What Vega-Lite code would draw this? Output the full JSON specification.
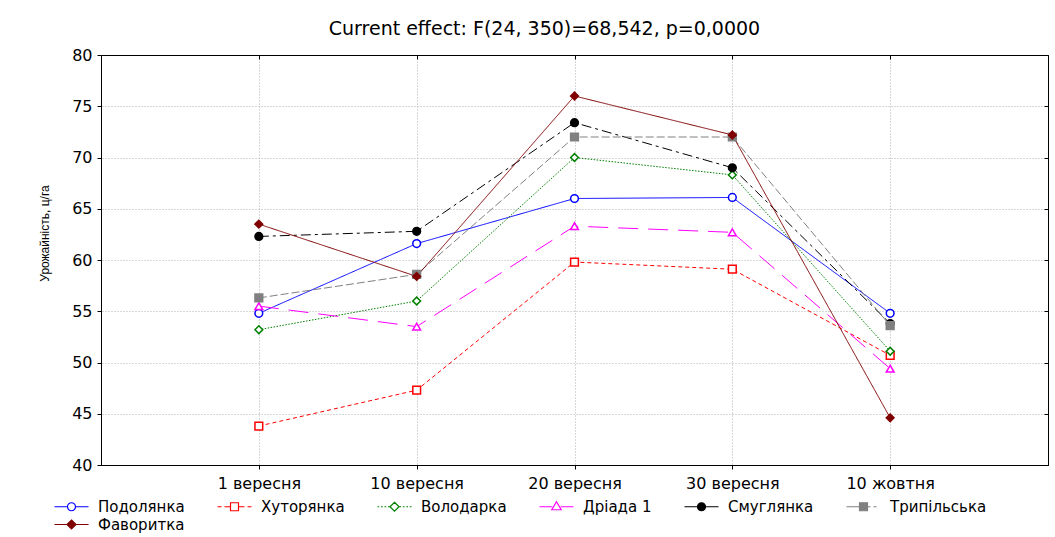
{
  "$schema": "https://vega.github.io/schema/vega-lite/v6.json",
  "width": 947,
  "height": 410,
  "autosize": {"type": "none"},
  "padding": {"left": 101, "top": 55, "right": 7, "bottom": 72},
  "background": "white",
  "title": {
    "text": "Current effect: F(24, 350)=68,542, p=0,0000",
    "font": "DejaVu Sans",
    "fontSize": 19,
    "fontWeight": "normal",
    "color": "#000000",
    "anchor": "middle",
    "frame": "group",
    "dx": -30,
    "baseline": "alphabetic",
    "offset": -7
  },
  "config": {
    "view": {"stroke": "#000000", "strokeWidth": 1},
    "axis": {
      "labelFont": "DejaVu Sans",
      "labelFontSize": 16,
      "labelColor": "#000000",
      "tickColor": "#000000",
      "domainColor": "#000000",
      "gridColor": "#b0b0b0",
      "gridDash": [1, 2],
      "gridWidth": 1
    }
  },
  "data": {
    "values": [
      {"series": "Подолянка", "date": "1 вересня", "yield": 54.8},
      {"series": "Подолянка", "date": "10 вересня", "yield": 61.6},
      {"series": "Подолянка", "date": "20 вересня", "yield": 66.0},
      {"series": "Подолянка", "date": "30 вересня", "yield": 66.1},
      {"series": "Подолянка", "date": "10 жовтня", "yield": 54.8},
      {"series": "Хуторянка", "date": "1 вересня", "yield": 43.8},
      {"series": "Хуторянка", "date": "10 вересня", "yield": 47.3},
      {"series": "Хуторянка", "date": "20 вересня", "yield": 59.8},
      {"series": "Хуторянка", "date": "30 вересня", "yield": 59.1},
      {"series": "Хуторянка", "date": "10 жовтня", "yield": 50.7},
      {"series": "Володарка", "date": "1 вересня", "yield": 53.2},
      {"series": "Володарка", "date": "10 вересня", "yield": 56.0},
      {"series": "Володарка", "date": "20 вересня", "yield": 70.0},
      {"series": "Володарка", "date": "30 вересня", "yield": 68.3},
      {"series": "Володарка", "date": "10 жовтня", "yield": 51.1},
      {"series": "Дріада 1", "date": "1 вересня", "yield": 55.5},
      {"series": "Дріада 1", "date": "10 вересня", "yield": 53.5},
      {"series": "Дріада 1", "date": "20 вересня", "yield": 63.3},
      {"series": "Дріада 1", "date": "30 вересня", "yield": 62.7},
      {"series": "Дріада 1", "date": "10 жовтня", "yield": 49.4},
      {"series": "Смуглянка", "date": "1 вересня", "yield": 62.3},
      {"series": "Смуглянка", "date": "10 вересня", "yield": 62.8},
      {"series": "Смуглянка", "date": "20 вересня", "yield": 73.4},
      {"series": "Смуглянка", "date": "30 вересня", "yield": 69.0},
      {"series": "Смуглянка", "date": "10 жовтня", "yield": 53.8},
      {"series": "Трипільська", "date": "1 вересня", "yield": 56.3},
      {"series": "Трипільська", "date": "10 вересня", "yield": 58.6},
      {"series": "Трипільська", "date": "20 вересня", "yield": 72.0},
      {"series": "Трипільська", "date": "30 вересня", "yield": 72.0},
      {"series": "Трипільська", "date": "10 жовтня", "yield": 53.6},
      {"series": "Фаворитка", "date": "1 вересня", "yield": 63.5},
      {"series": "Фаворитка", "date": "10 вересня", "yield": 58.4},
      {"series": "Фаворитка", "date": "20 вересня", "yield": 76.0},
      {"series": "Фаворитка", "date": "30 вересня", "yield": 72.2},
      {"series": "Фаворитка", "date": "10 жовтня", "yield": 44.6}
    ]
  },
  "resolve": {"axis": {"x": "independent", "y": "independent"}},
  "layer": [
    {
      "mark": {"type": "line", "strokeWidth": 1},
      "encoding": {
        "x": {
          "field": "date",
          "type": "ordinal",
          "sort": ["1 вересня", "10 вересня", "20 вересня", "30 вересня", "10 жовтня"],
          "scale": {"type": "point", "padding": 1},
          "axis": {"title": null, "labelAngle": 0, "tickSize": 4, "labelPadding": 6, "grid": true}
        },
        "y": {
          "field": "yield",
          "type": "quantitative",
          "scale": {"domain": [40, 80], "nice": false, "zero": false},
          "axis": {
            "values": [40, 45, 50, 55, 60, 65, 70, 75, 80],
            "title": "Урожайність, ц/га",
            "titleFont": "Liberation Sans",
            "titleFontSize": 12,
            "titleFontWeight": "normal",
            "titleColor": "#000000",
            "titleAngle": -90,
            "titleAlign": "center",
            "titleBaseline": "bottom",
            "titlePadding": 20,
            "titleY": 178,
            "tickSize": 4,
            "labelPadding": 5,
            "grid": false
          }
        },
        "color": {
          "field": "series",
          "type": "nominal",
          "scale": {
            "domain": ["Подолянка", "Хуторянка", "Володарка", "Дріада 1", "Смуглянка", "Трипільська", "Фаворитка"],
            "range": ["#0000ff", "#ff0000", "#008000", "#ff00ff", "#000000", "#808080", "#800000"]
          },
          "legend": {
            "title": null,
            "orient": "none",
            "legendX": -37,
            "legendY": 444,
            "direction": "horizontal",
            "columns": 6,
            "labelFont": "DejaVu Sans",
            "labelFontSize": 15,
            "labelColor": "#000000",
            "symbolSize": 100,
            "symbolStrokeWidth": 1.2,
            "labelOffset": 19,
            "columnPadding": 30,
            "rowPadding": 2,
            "encode": {
              "symbols": {
                "update": {
                  "shape": {"signal": "{'Подолянка': 'M-3.4,0H-0.8M0.8,0H3.4M0.8,0A0.8,0.8 0 1,1 -0.8,0A0.8,0.8 0 1,1 0.8,0Z', 'Хуторянка': 'M-3.4,0H-2.6M-2,0H-0.8M0.8,0H2M2.6,0H3.4M-0.8,-0.8H0.8V0.8H-0.8Z', 'Володарка': 'M-3.4,0H-3.05M-2.7,0H-2.35M-2,0H-1.65M-1.3,0H-0.95M0.95,0H1.3M1.65,0H2M2.35,0H2.7M3.05,0H3.4M0,-0.9L0.9,0L0,0.9L-0.9,0Z', 'Дріада 1': 'M-3.4,0H-0.85M0.85,0H3.4M0,-1L0.95,0.6H-0.95Z', 'Смуглянка': 'M-3.4,0H-0.8M0.8,0H3.4M0.8,0A0.8,0.8 0 1,1 -0.8,0A0.8,0.8 0 1,1 0.8,0Z', 'Трипільська': 'M-3.4,0H-0.8M0.8,0H1.4M2,0H2.6M-0.8,-0.8H0.8V0.8H-0.8Z', 'Фаворитка': 'M-3.4,0H-0.9M0.9,0H3.4M0,-0.9L0.9,0L0,0.9L-0.9,0Z'}[datum.value]"},
                  "fill": {"signal": "indexof(['Смуглянка', 'Трипільська', 'Фаворитка'], datum.value) >= 0 ? scale('color', datum.value) : '#ffffff'"},
                  "strokeWidth": {"value": 1.2},
                  "opacity": {"value": 1}
                }
              }
            }
          }
        },
        "strokeDash": {
          "field": "series",
          "type": "nominal",
          "scale": {
            "domain": ["Володарка", "Дріада 1", "Подолянка", "Смуглянка", "Трипільська", "Фаворитка", "Хуторянка"],
            "range": [[1.5, 1.5], [20, 10], [1, 0], [10, 4, 3, 4], [8, 3], [1, 0], [4, 3]]
          },
          "legend": null
        }
      }
    },
    {
      "mark": {"type": "point", "size": 60, "strokeWidth": 1.5, "opacity": 1},
      "encoding": {
        "x": {
          "field": "date",
          "type": "ordinal",
          "sort": ["1 вересня", "10 вересня", "20 вересня", "30 вересня", "10 жовтня"],
          "axis": {"orient": "top", "title": null, "labels": false, "domain": true, "grid": false, "tickSize": -4}
        },
        "y": {
          "field": "yield",
          "type": "quantitative",
          "axis": {"orient": "right", "title": null, "labels": false, "domain": true, "grid": true, "tickSize": -4, "values": [45, 50, 55, 60, 65, 70, 75]}
        },
        "shape": {
          "field": "series",
          "type": "nominal",
          "scale": {
            "domain": ["Володарка", "Дріада 1", "Подолянка", "Смуглянка", "Трипільська", "Фаворитка", "Хуторянка"],
            "range": ["diamond", "triangle-up", "circle", "circle", "square", "diamond", "square"]
          },
          "legend": null
        },
        "stroke": {
          "field": "series",
          "type": "nominal",
          "scale": {
            "domain": ["Володарка", "Дріада 1", "Подолянка", "Смуглянка", "Трипільська", "Фаворитка", "Хуторянка"],
            "range": ["#008000", "#ff00ff", "#0000ff", "#000000", "#808080", "#800000", "#ff0000"]
          },
          "legend": null
        },
        "fill": {
          "field": "series",
          "type": "nominal",
          "scale": {
            "domain": ["Володарка", "Дріада 1", "Подолянка", "Смуглянка", "Трипільська", "Фаворитка", "Хуторянка"],
            "range": ["#ffffff", "#ffffff", "#ffffff", "#000000", "#808080", "#800000", "#ffffff"]
          },
          "legend": null
        }
      }
    }
  ]
}
